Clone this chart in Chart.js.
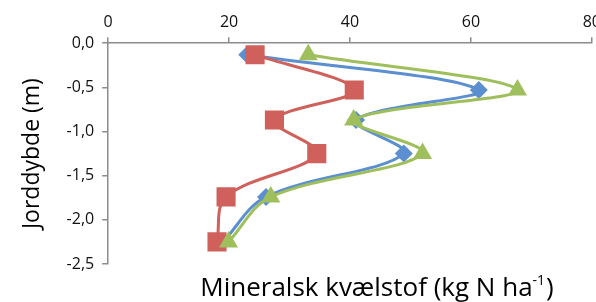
<!DOCTYPE html>
<html>
<head>
<meta charset="utf-8">
<script src="https://cdn.jsdelivr.net/npm/chart.js@4.4.1/dist/chart.umd.min.js"></script>
<style>
  html, body { margin: 0; padding: 0; background: #fff; }
  /* canvas is a bit wider than the window so the "80" label runs to the edge */
  #wrap { width: 596px; height: 302px; overflow: hidden; }
  #myChart { display: block; }
</style>
</head>
<body>
<div id="wrap"><canvas id="myChart" width="606" height="302"></canvas></div>
<script>
// depths (m) shared by all series
const depths = [-0.13, -0.53, -0.87, -1.25, -1.74, -2.25];

// mineral N (kg N/ha) per series
const blueValues = [23.0, 61.3, 41.0, 48.9, 26.1, 19.0];
const redValues = [24.3, 40.7, 27.5, 34.5, 19.5, 18.0];
const greenValues = [33.1, 67.7, 40.6, 52.0, 26.9, 19.9];

const xTicks = [0, 20, 40, 60, 80];
const yTicks = [0, -0.5, -1.0, -1.5, -2.0, -2.5];

const yTitle = 'Jorddybde (m)';
const xTitle = 'Mineralsk kvælstof (kg N ha';
const xTitleSup = '-1';

const toPoints = (values) => values.map((v, i) => ({ x: v, y: depths[i] }));

// draw the bottom axis title with a superscript
const bottomTitle = {
    id: 'bottomTitle',
    afterDraw(chart) {
        const { ctx, chartArea } = chart;
        ctx.save();
        ctx.fillStyle = '#000';
        ctx.textBaseline = 'alphabetic';
        const main = '26px "Open Sans"';
        const sup = '14px "Open Sans"';
        ctx.font = main;
        const w1 = ctx.measureText(xTitle).width;
        const w3 = ctx.measureText(')').width;
        ctx.font = sup;
        const w2 = ctx.measureText(xTitleSup).width;
        const total = w1 + w2 + w3 + 1;
        const cx = (chartArea.left + chartArea.right) / 2 + 27;
        let x = cx - total / 2;
        const y = chartArea.bottom + 32;
        ctx.font = main;
        ctx.fillText(xTitle, x, y);
        x += w1;
        ctx.font = sup;
        ctx.fillText(xTitleSup, x, y - 11);
        x += w2 + 1;
        ctx.font = main;
        ctx.fillText(')', x, y);
        ctx.restore();
    }
};

const mkSet = (label, values, color, style, radius, order) => ({
    label: label,
    data: toPoints(values),
    showLine: true,
    borderColor: color,
    backgroundColor: color,
    pointBackgroundColor: color,
    pointBorderColor: color,
    pointBorderWidth: 0,
    borderWidth: 3,
    tension: 0.35,
    pointStyle: style,
    pointRadius: radius,
    pointHoverRadius: radius,
    order: order,
});

const ctx = document.getElementById('myChart').getContext('2d');

const myChart = new Chart(ctx, {
    type: 'scatter',
    data: {
        datasets: [
            mkSet('Blå', blueValues, '#5b8fcf', 'rectRot', 9, 2),
            mkSet('Rød', redValues, '#cf605b', 'rect', 13.5, 1),
            mkSet('Grøn', greenValues, '#9fbf5c', 'triangle', 11, 0),
        ]
    },
    options: {
        responsive: false,
        animation: false,
        layout: {
            padding: { left: 19, right: 0, top: 8, bottom: 38 }
        },
        plugins: {
            legend: { display: false },
            tooltip: { enabled: false },
        },
        scales: {
            x: {
                type: 'linear',
                position: 'top',
                min: 0,
                max: 80,
                afterBuildTicks: (axis) => { axis.ticks = xTicks.map(v => ({ value: v })); },
                ticks: {
                    color: '#111',
                    font: { family: 'Open Sans', size: 16 },
                    padding: 5,
                },
                grid: {
                    drawOnChartArea: false,
                    drawTicks: true,
                    tickLength: 6,
                    color: '#8c8c8c',
                    lineWidth: 1.5,
                },
                border: { color: '#8c8c8c', width: 1.5 },
            },
            y: {
                type: 'linear',
                min: -2.5,
                max: 0,
                afterBuildTicks: (axis) => { axis.ticks = yTicks.map(v => ({ value: v })); },
                ticks: {
                    color: '#111',
                    font: { family: 'Open Sans', size: 16 },
                    padding: 8,
                    callback: (v) => v.toFixed(1).replace('.', ','),
                },
                title: {
                    display: true,
                    text: yTitle,
                    color: '#000',
                    font: { family: 'Open Sans', size: 23 },
                    padding: { top: 0, bottom: 12 },
                },
                grid: {
                    drawOnChartArea: false,
                    drawTicks: true,
                    tickLength: 6,
                    color: '#8c8c8c',
                    lineWidth: 1.5,
                },
                border: { color: '#8c8c8c', width: 1.5 },
            }
        }
    },
    plugins: [bottomTitle]
});
</script>
</body>
</html>
